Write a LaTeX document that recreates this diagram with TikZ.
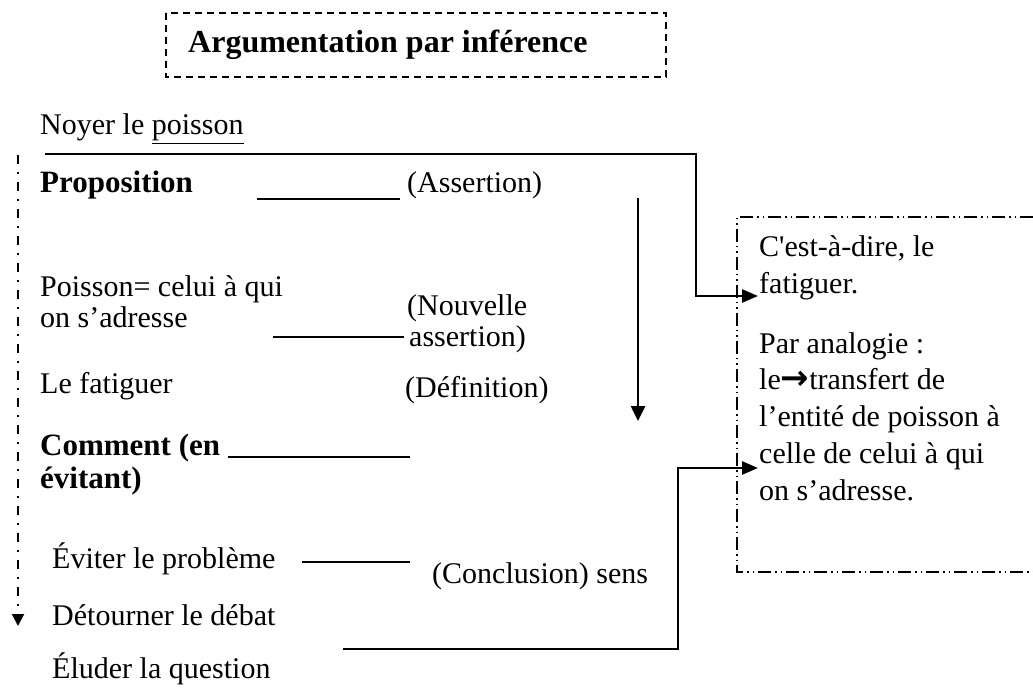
\documentclass[tikz,border=0pt]{standalone}
\usepackage{fontspec}
\newfontfamily\bodyfont{Liberation Serif}
\newfontfamily\arrowfont{DejaVu Sans}
\usetikzlibrary{arrows.meta}
\tikzset{
  txt/.style={anchor=base west, inner sep=0pt, font=\bodyfont\fontsize{30}{36}\selectfont},
  btxt/.style={anchor=base west, inner sep=0pt, font=\bodyfont\bfseries\fontsize{31}{36}\selectfont},
  ttxt/.style={anchor=base west, inner sep=0pt, font=\bodyfont\bfseries\fontsize{32}{38}\selectfont},
  titlebox/.style={draw, line width=1.8pt, dash pattern=on 7pt off 5pt},
  ddbox/.style={draw, line width=1.3pt, dash pattern=on 13pt off 4pt on 1.5pt off 4pt on 1.5pt off 4pt},
  leftline/.style={draw, line width=2pt, dash pattern=on 9pt off 8pt on 2pt off 8pt},
  tie/.style={draw, line width=2pt},
  conn/.style={draw, line width=2.6pt},
}
\begin{document}
\begin{tikzpicture}[x=1pt,y=-1pt]
\useasboundingbox (0,0) rectangle (1033,692);
% title
\draw[titlebox] (166,13) rectangle (666,77);
\node[ttxt] (title) at (188,53) {Argumentation par inférence};
% left column
\node[txt] (noyer) at (40,135) {Noyer le \underline{poisson}};
\node[btxt] (prop) at (40,193) {Proposition};
\node[txt] (assert) at (407,193) {(Assertion)};
\node[txt] (pois1) at (40,297) {Poisson= celui à qui};
\node[txt] (pois2) at (40,328) {on s’adresse};
\node[txt] (nouv1) at (407,316) {(Nouvelle};
\node[txt] (nouv2) at (409,347) {assertion)};
\node[txt] (fatig) at (40,393) {Le fatiguer};
\node[txt] (defin) at (405,397) {(Définition)};
\node[btxt] (comm1) at (40,455) {Comment (en};
\node[btxt] (comm2) at (40,488) {évitant)};
\node[txt] (eviter) at (52,568) {Éviter le problème};
\node[txt] (concl) at (432,583) {(Conclusion) sens};
\node[txt] (detour) at (52,625) {Détourner le débat};
\node[txt] (eluder) at (52,678) {Éluder la question};
% right box text
\node[txt] (cest) at (759,257) {C'est-à-dire, le};
\node[txt] (fatig2) at (759,294) {fatiguer.};
\node[txt] (par) at (759,353) {Par analogie :};
\node[txt] (transf) at (759,389) {le{\arrowfont\bfseries\fontsize{34}{36}\selectfont →}transfert de};
\node[txt] (entite) at (759,426) {l’entité de poisson à};
\node[txt] (celle) at (759,463) {celle de celui à qui};
\node[txt] (adresse) at (759,500) {on s’adresse.};
% dash-dot box
\draw[ddbox] (1033,217) -- (737,217) -- (737,572) -- (1033,572);
% tie lines
\coordinate (t1a) at (257,199); \coordinate (t1b) at (400,199);
\coordinate (t2a) at (273,337); \coordinate (t2b) at (404,337);
\coordinate (t3a) at (228,457); \coordinate (t3b) at (410,457);
\coordinate (t4a) at (302,562); \coordinate (t4b) at (410,562);
\draw[tie] (t1a) -- (t1b);
\draw[tie] (t2a) -- (t2b);
\draw[tie] (t3a) -- (t3b);
\draw[tie] (t4a) -- (t4b);
% left dashed arrow
\coordinate (ls) at (18,155); \coordinate (le) at (18,626);
\draw[leftline, -{Triangle[length=12pt,width=12pt]}] (ls) -- (le);
% middle arrow
\coordinate (ms) at (638,198); \coordinate (me) at (638,421);
\draw[conn, -{Triangle[length=15pt,width=14pt]}] (ms) -- (me);
% top connector
\coordinate (topstart) at (45,154);
\coordinate (topturn) at (696,296);
\coordinate (toptip) at (758,296);
\draw[conn, -{Triangle[length=16pt,width=13pt]}] (topstart) -| (topturn) -- (toptip);
% bottom connector
\coordinate (botstart) at (343,649);
\coordinate (botturn) at (678,468);
\coordinate (bottip) at (758,468);
\draw[conn, -{Triangle[length=16pt,width=13pt]}] (botstart) -| (botturn) -- (bottip);
\end{tikzpicture}
\end{document}
